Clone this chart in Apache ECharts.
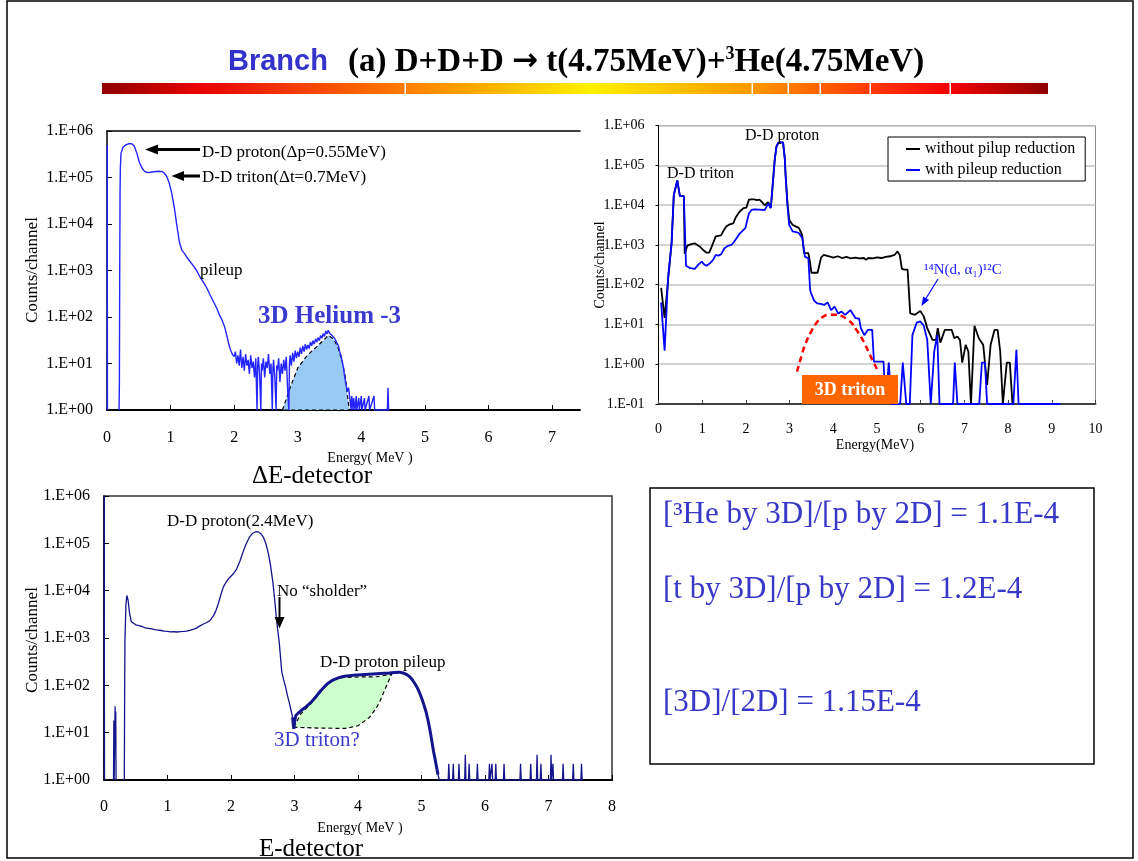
<!DOCTYPE html>
<html><head><meta charset="utf-8">
<script src="https://cdn.jsdelivr.net/npm/echarts@6/dist/echarts.min.js"></script>
<style>html,body{margin:0;padding:0;background:#fff}#c{width:1138px;height:861px}</style>
</head><body><div id="c"></div>
<script>
// ---------------- DATA ----------------
// ΔE-detector spectrum [Energy MeV, counts/channel]
const dESpectrum = [
[0.003,500000],[0.007,1],[0.1,null],[0.19,1],[0.195,4],[0.20,900],[0.205,40000],[0.21,160000],[0.22,330000],[0.25,440000],[0.29,500000],[0.34,530000],[0.39,530000],[0.43,470000],[0.47,330000],[0.51,210000],[0.55,160000],[0.59,135000],[0.63,128000],[0.68,130000],[0.74,133000],[0.80,136000],[0.86,135000],[0.90,125000],[0.94,105000],[0.98,75000],[1.02,45000],[1.06,22000],[1.10,9000],[1.14,4000],[1.18,2700],[1.22,2300],[1.26,1900],[1.30,1600],[1.35,1300],[1.41,1000],[1.45,780],[1.49,640],[1.53,520],[1.57,420],[1.61,320],[1.65,250],[1.69,195],[1.73,150],[1.77,110],[1.81,85],[1.85,62],[1.88,42],[1.91,28],[1.94,20],[1.97,16],
[2.00,14],[2.02,18],[2.04,10],[2.06,15],[2.08,9],[2.10,20],[2.12,8],[2.14,14],[2.16,7],[2.18,16],[2.20,9],[2.22,12],[2.24,6],[2.26,15],[2.28,8],[2.30,11],[2.32,5],[2.34,13],[2.36,1],[2.37,9],[2.38,14],[2.40,6],[2.42,1],[2.43,10],[2.44,7],[2.46,13],[2.48,5],[2.50,11],[2.52,8],[2.54,16],[2.56,6],[2.58,10],[2.60,1],[2.61,8],[2.62,12],[2.64,5],[2.66,1],[2.67,9],[2.68,7],[2.70,13],[2.72,4],[2.74,10],[2.76,6],[2.78,12],[2.80,7],[2.82,14],[2.84,3],[2.86,1],[2.87,10],[2.88,15],[2.90,9],[2.92,17],[2.94,11],[2.96,19],[2.98,13],[3.00,18],[3.02,14],[3.04,22],[3.06,16],[3.08,24],[3.10,18],[3.12,26],[3.14,20],[3.16,25],[3.18,21],[3.20,29],[3.22,24],[3.24,31],[3.26,26],[3.28,34],[3.30,29],[3.32,36],[3.34,31],[3.36,40],[3.38,35],[3.40,44],[3.42,38],[3.44,50],[3.46,43],[3.48,52],[3.50,45],[3.52,47],[3.54,40],[3.56,42],[3.58,35],[3.60,33],[3.62,27],[3.64,24],[3.66,18],[3.68,15],[3.70,11],[3.72,8],[3.74,5],[3.76,3.5],[3.78,2.5],[3.80,3],[3.82,1.8],[3.84,1],[3.85,2],[3.87,1],[3.88,1.8],[3.90,1],[3.92,2],[3.93,1],[3.96,1.8],[3.97,1],[4.00,2],[4.01,1],[4.05,1.8],[4.06,1],[4.12,2],[4.13,1],[4.20,2],[4.21,1],[4.41,1],[4.42,3],[4.43,1],[4.45,1]
];
// outline of the shaded 3D Helium-3 peak
const he3Region = [[2.76,1],[2.88,3],[3.0,8],[3.15,15],[3.3,23],[3.42,33],[3.48,40],[3.56,34],[3.63,23],[3.7,11],[3.75,5],[3.8,1.3],[3.82,1]];

// Top-right spectra
const withoutPileupReduction = [
[0.06,83],[0.14,14.7],[0.22,133],[0.30,1130],[0.35,18000],[0.43,42000],[0.49,17000],[0.58,17000],[0.60,600],[0.66,960],[0.75,1050],[0.83,1100],[0.94,920],[1.02,750],[1.10,640],[1.16,640],[1.22,920],[1.31,1640],[1.37,1700],[1.43,1740],[1.49,2300],[1.55,2900],[1.63,3300],[1.71,3500],[1.77,5000],[1.83,6300],[1.89,7500],[1.95,8500],[2.01,8700],[2.07,13800],[2.13,14000],[2.19,14000],[2.25,13500],[2.31,13800],[2.37,12000],[2.43,10000],[2.47,10000],[2.51,12000],[2.57,8500],[2.62,40000],[2.66,140000],[2.70,300000],[2.74,370000],[2.80,380000],[2.85,380000],[2.89,150000],[2.91,53000],[2.95,12000],[2.99,4300],[3.07,3200],[3.15,2900],[3.21,2700],[3.27,2000],[3.29,1640],[3.33,630],[3.43,620],[3.47,350],[3.50,200],[3.64,200],[3.67,210],[3.72,480],[3.78,560],[3.90,520],[4.00,480],[4.10,520],[4.20,470],[4.30,500],[4.40,460],[4.50,480],[4.60,460],[4.70,470],[4.75,420],[4.80,470],[4.90,460],[5.00,490],[5.10,470],[5.20,500],[5.30,520],[5.40,560],[5.47,690],[5.52,560],[5.57,250],[5.62,240],[5.70,240],[5.76,19],[5.87,17.5],[5.99,22],[6.07,16],[6.15,8.1],[6.27,4.1],[6.35,4.1],[6.39,8.1],[6.45,3.5],[6.55,7.3],[6.63,7.3],[6.71,7.3],[6.77,4.5],[6.84,5],[6.90,4],[6.95,1.1],[7.03,3.1],[7.09,2.1],[7.15,0.1],[7.23,9.3],[7.33,4.5],[7.43,3.1],[7.52,0.3],[7.60,3.1],[7.69,7.3],[7.76,7.3],[7.82,2.1],[7.88,0.1],[7.97,1.1],[8.04,1.1],[8.10,0.1]
];
const withPileupReduction = [
[0.06,36],[0.14,2.2],[0.22,160],[0.30,1130],[0.35,18000],[0.43,42000],[0.49,17000],[0.58,17000],[0.63,300],[0.73,260],[0.83,250],[0.91,320],[0.99,380],[1.05,320],[1.10,300],[1.18,350],[1.25,420],[1.31,560],[1.37,540],[1.43,580],[1.51,830],[1.59,950],[1.67,1000],[1.73,1200],[1.79,1500],[1.85,1900],[1.91,2200],[1.99,2700],[2.07,6300],[2.13,7600],[2.19,7900],[2.31,7700],[2.43,7500],[2.47,7500],[2.51,11000],[2.57,8500],[2.62,40000],[2.66,140000],[2.70,300000],[2.74,370000],[2.80,380000],[2.85,380000],[2.89,150000],[2.91,53000],[2.95,10000],[2.99,3200],[3.07,2200],[3.15,2100],[3.21,2000],[3.29,1500],[3.35,510],[3.43,460],[3.47,74],[3.49,62],[3.56,40],[3.63,34],[3.71,33],[3.79,31],[3.87,36],[3.95,23],[4.03,28],[4.11,19],[4.19,21],[4.27,17.5],[4.39,23],[4.51,14.4],[4.59,14],[4.63,8.1],[4.71,5.4],[4.79,7.3],[4.89,7.3],[4.93,1.16],[5.15,1.16],[5.19,0.1],[5.27,1.1],[5.33,0.1],[5.53,0.1],[5.59,1.1],[5.67,0.1],[5.75,0.1],[5.81,5.4],[5.91,11.2],[5.99,12],[6.07,9.3],[6.15,4.1],[6.23,0.1],[6.31,2.1],[6.38,5.4],[6.43,0.1],[6.74,0.1],[6.78,1.1],[6.84,0.1],[7.34,0.1],[7.40,1.1],[7.47,1.1],[7.52,0.1],[8.12,0.1],[8.19,2.3],[8.24,0.1],[9.20,0.1]
];
// red dashed 3D triton estimate
const tritonEstimate = [[3.17,0.65],[3.27,1.6],[3.37,3.4],[3.49,6.5],[3.61,10.8],[3.77,15.8],[3.93,17.5],[4.05,17.6],[4.17,16.7],[4.33,13],[4.45,10],[4.53,7.3],[4.63,5],[4.73,3.1],[4.81,2],[4.89,1.3],[5.01,0.72]];

// E-detector spectrum
const eSpectrum = [
[0.003,1000000],[0.008,1],[0.08,null],[0.15,1],[0.155,18],[0.16,1],[0.17,1],[0.175,36],[0.18,5],[0.185,28],[0.19,1],[0.25,null],[0.32,1],[0.325,60],[0.33,900],[0.345,5000],[0.36,7900],[0.38,6200],[0.40,3500],[0.43,2200],[0.46,2000],[0.50,1900],[0.55,1820],[0.60,1750],[0.65,1640],[0.70,1600],[0.75,1560],[0.80,1500],[0.85,1470],[0.90,1440],[0.95,1400],[1.00,1380],[1.05,1350],[1.10,1360],[1.15,1340],[1.20,1370],[1.25,1380],[1.30,1400],[1.35,1450],[1.40,1520],[1.45,1600],[1.51,1800],[1.56,1950],[1.61,2100],[1.67,2350],[1.72,2900],[1.76,3700],[1.80,5300],[1.84,8200],[1.88,12000],[1.93,15600],[1.98,19000],[2.04,23000],[2.09,29000],[2.14,42000],[2.19,66000],[2.24,98000],[2.29,135000],[2.34,163000],[2.39,176000],[2.43,175000],[2.47,160000],[2.51,135000],[2.55,98000],[2.59,60000],[2.62,36000],[2.66,15000],[2.69,6000],[2.72,2200],[2.76,800],[2.80,190],[2.83,130],[2.86,92],[2.89,60],[2.92,42],[2.95,28],[2.97,21],[2.98,15],[2.99,12],
[3.00,16],[3.02,23],[3.04,21],[3.06,26],[3.08,24],[3.10,29],[3.12,27],[3.14,32],[3.16,30],[3.18,35],[3.20,34],[3.22,39],[3.24,38],[3.26,44],[3.28,43],[3.30,50],[3.32,52],[3.34,58],[3.36,60],[3.38,68],[3.40,72],[3.42,79],[3.44,84],[3.46,90],[3.48,95],[3.50,102],[3.52,106],[3.54,114],[3.56,117],[3.58,124],[3.60,126],[3.63,133],[3.66,138],[3.69,144],[3.72,146],[3.75,152],[3.78,150],[3.81,157],[3.84,155],[3.87,160],[3.90,158],[3.93,163],[3.96,160],[3.99,165],[4.02,162],[4.05,167],[4.08,164],[4.11,169],[4.14,166],[4.17,171],[4.20,168],[4.23,173],[4.26,170],[4.29,175],[4.32,172],[4.35,177],[4.38,174],[4.41,179],[4.44,176],[4.47,181],[4.50,178],[4.53,184],[4.56,181],[4.59,187],[4.62,183],[4.65,190],[4.68,186],[4.71,183],[4.74,176],[4.77,168],[4.80,158],[4.83,145],[4.86,128],[4.89,112],[4.92,96],[4.95,80],[4.98,64],[5.01,50],[5.04,38],[5.07,28],[5.10,19],[5.13,12],[5.16,7],[5.19,4],[5.22,2.5],[5.24,1.8],[5.26,1.3],[5.28,1],
[5.42,1],[5.43,2.2],[5.44,1],[5.49,1],[5.50,2.2],[5.51,1],[5.58,1],[5.59,2.2],[5.60,1],[5.68,1],[5.69,3.4],[5.70,1],[5.74,1],[5.75,2.2],[5.76,1],[5.87,1],[5.88,2.2],[5.89,1],[6.06,1],[6.07,2.2],[6.08,1],[6.10,1],[6.11,2.2],[6.12,1],[6.16,1],[6.17,2.2],[6.18,1],[6.29,1],[6.30,2.2],[6.31,1],[6.55,1],[6.56,2.2],[6.57,1],[6.71,1],[6.72,2.2],[6.73,1],[6.81,1],[6.82,3.4],[6.83,1],[6.87,1],[6.88,2.2],[6.89,1],[7.03,1],[7.04,3.4],[7.05,1],[7.06,1],[7.07,2.2],[7.08,1],[7.22,1],[7.23,2.2],[7.24,1],[7.38,1],[7.39,2.2],[7.40,1],[7.51,1],[7.52,2.2],[7.53,1]
];
// green 3D triton? region: upper and lower boundaries
const tritonRegionUpper = [[2.99,13],[3.1,25],[3.25,40],[3.4,70],[3.5,100],[3.6,125],[3.7,145],[4.0,150],[4.3,152],[4.53,172]];
const tritonRegionLower = [[2.99,13],[3.4,12.5],[3.8,12.3],[4.0,14],[4.18,21],[4.28,32],[4.34,44],[4.42,80],[4.53,172]];

// tick label values
const dETicks = [0,1,2,3,4,5,6,7];
const trTicks = [0,1,2,3,4,5,6,7,8,9,10];
const eTicks = [0,1,2,3,4,5,6,7,8];

// ---------------- CHART ----------------
const SERIF = 'Liberation Serif';
function logLabel(v){ const e = Math.round(Math.log10(v)); return '1.E' + (e < 0 ? '-' : '+') + String(Math.abs(e)).padStart(2,'0'); }
function polyRender(points, fill){
  return function(params, api){
    if (params.dataIndex !== 0) return null;
    return {type:'polygon', shape:{points: points.map(p => api.coord(p))},
      style:{fill: fill, stroke:'#000', lineWidth:1.2, lineDash:[4,3]}};
  };
}
const chart = echarts.init(document.getElementById('c'), null, {renderer:'canvas'});
const lbl = (size, extra) => Object.assign({fontFamily:SERIF, fontSize:size, color:'#000'}, extra||{});
const T = (x, y, text, size, extra) => ({type:'text', x:x, y:y, z:50, style:Object.assign({text:text, fontFamily:SERIF, fontSize:size, fill:'#000', align:'left', verticalAlign:'middle'}, extra||{})});

const option = {
  animation:false,
  backgroundColor:'#fff',
  grid:[
    {left:107, top:131, width:473, height:279, show:false},
    {left:658.5, top:125.7, width:437, height:278.3, show:true, borderColor:'#8C8C8C', borderWidth:1},
    {left:104, top:496, width:508, height:284, show:true, borderColor:'#333', borderWidth:1.5}
  ],
  xAxis:[
    {gridIndex:0, type:'value', min:0, max:7.44, interval:1,
     axisLine:{show:true, lineStyle:{color:'#000', width:2}}, axisTick:{show:true, inside:true, length:5, customValues:dETicks, lineStyle:{color:'#000'}},
     axisLabel:{customValues:dETicks, margin:20, ...lbl(16)}, splitLine:{show:false}},
    {gridIndex:0, type:'value', position:'top', min:0, max:7.44,
     axisLine:{show:true, lineStyle:{color:'#000', width:1.5}}, axisTick:{show:false}, axisLabel:{show:false}, splitLine:{show:false}},
    {gridIndex:1, type:'value', min:0, max:10, interval:1,
     axisLine:{show:true, lineStyle:{color:'#404040', width:2}}, axisTick:{show:true, inside:true, length:4, lineStyle:{color:'#404040'}},
     axisLabel:{customValues:trTicks, margin:18, ...lbl(14)}, splitLine:{show:false}},
    {gridIndex:2, type:'value', min:0, max:8, interval:1,
     axisLine:{show:true, lineStyle:{color:'#000', width:2}}, axisTick:{show:true, inside:true, length:5, lineStyle:{color:'#000'}},
     axisLabel:{customValues:eTicks, margin:19, ...lbl(16)}, splitLine:{show:false}}
  ],
  yAxis:[
    {gridIndex:0, type:'log', logBase:10, min:1, max:1e6, splitNumber:6,
     axisLine:{show:true, lineStyle:{color:'#000', width:1.5}}, axisTick:{show:true, inside:true, length:5, lineStyle:{color:'#000'}},
     axisLabel:{formatter:logLabel, margin:14, ...lbl(16)}, splitLine:{show:false}},
    {gridIndex:1, type:'log', logBase:10, min:0.1, max:1e6, splitNumber:7,
     axisLine:{show:true, lineStyle:{color:'#000', width:1}}, axisTick:{show:true, inside:false, length:3, lineStyle:{color:'#000'}},
     axisLabel:{formatter:logLabel, margin:14, ...lbl(14)}, splitLine:{show:true, lineStyle:{color:'#C4C4C4', width:1.5}}},
    {gridIndex:2, type:'log', logBase:10, min:1, max:1e6, splitNumber:6,
     axisLine:{show:true, lineStyle:{color:'#000', width:1.5}}, axisTick:{show:true, inside:true, length:5, lineStyle:{color:'#000'}},
     axisLabel:{formatter:logLabel, margin:14, ...lbl(16)}, splitLine:{show:false}}
  ],
  legend:{
    data:['without pilup reduction','with pileup reduction'], orient:'vertical', left:888, top:137,
    icon:'rect', itemWidth:14, itemHeight:2, itemGap:3, selectedMode:false,
    borderColor:'#000', borderWidth:1, backgroundColor:'#fff', padding:[3,10,2,18],
    textStyle:{fontFamily:SERIF, fontSize:16, color:'#000', lineHeight:18}
  },
  series:[
    {name:'He3 region', type:'custom', xAxisIndex:0, yAxisIndex:0, z:2, silent:true,
     renderItem:polyRender(he3Region, '#99C9F5'), data:[he3Region[0]], encode:{x:0, y:1}},
    {name:'ΔE spectrum', type:'line', xAxisIndex:0, yAxisIndex:0, z:3, symbol:'none',
     lineStyle:{color:'#2424FF', width:1.4}, data:dESpectrum},
    {name:'without pilup reduction', type:'line', xAxisIndex:2, yAxisIndex:1, z:3, symbol:'none', color:'#000',
     lineStyle:{color:'#000', width:1.8}, data:withoutPileupReduction},
    {name:'with pileup reduction', type:'line', xAxisIndex:2, yAxisIndex:1, z:4, symbol:'none', color:'#0000FF',
     lineStyle:{color:'#0000FF', width:1.8}, data:withPileupReduction},
    {name:'3D triton estimate', type:'line', xAxisIndex:2, yAxisIndex:1, z:5, symbol:'none', smooth:true,
     lineStyle:{color:'#FF0000', width:2.5, type:[6,4]}, data:tritonEstimate},
    {name:'triton region', type:'custom', xAxisIndex:3, yAxisIndex:2, z:2, silent:true,
     renderItem:polyRender(tritonRegionUpper.concat(tritonRegionLower.slice().reverse()), '#CCFFCC'),
     data:[tritonRegionUpper[0]], encode:{x:0, y:1}},
    {name:'E spectrum', type:'line', xAxisIndex:3, yAxisIndex:2, z:3, symbol:'none',
     lineStyle:{color:'#14148C', width:1.3}, data:eSpectrum},
    {name:'E pileup band', type:'line', xAxisIndex:3, yAxisIndex:2, z:3, symbol:'none',
     lineStyle:{color:'#14148C', width:3}, data:eSpectrum.filter(p => p[0] >= 2.97 && p[0] <= 5.26)}
  ],
  graphic:{elements:[
    // slide frame
    {type:'rect', shape:{x:7, y:1, width:1126, height:857}, style:{fill:null, stroke:'#000', lineWidth:1.5}, z:0},
    // title
    {type:'text', x:228, y:62, style:{text:'Branch', fontFamily:'Liberation Sans', fontWeight:'bold', fontSize:29, fill:'#3333CC', verticalAlign:'middle'}},
    {type:'text', x:348, y:62, style:{text:'(a) D+D+D {a|→} t(4.75MeV)+{s|3}He(4.75MeV)', fontFamily:SERIF, fontWeight:'bold', fontSize:33, fill:'#000', verticalAlign:'middle',
       rich:{s:{fontFamily:SERIF, fontWeight:'bold', fontSize:18, verticalAlign:'top', fill:'#000'},
             a:{fontFamily:'DejaVu Sans', fontWeight:'bold', fontSize:31, fill:'#000'}}}},
    {type:'rect', shape:{x:102, y:83, width:946, height:11}, style:{fill:new echarts.graphic.LinearGradient(0,0,1,0,[
      {offset:0, color:'#8E0000'},{offset:0.1, color:'#E80000'},{offset:0.315, color:'#FF7A00'},{offset:0.516, color:'#FFF000'},
      {offset:0.685, color:'#FF9A00'},{offset:0.81, color:'#FF3A00'},{offset:0.9, color:'#F00000'},{offset:1, color:'#8E0000'}])}},
    {type:'rect', shape:{x:404.5, y:83, width:1.5, height:11}, style:{fill:'#fff'}},
    {type:'rect', shape:{x:751.5, y:83, width:1.5, height:11}, style:{fill:'#fff'}},
    {type:'rect', shape:{x:787.5, y:83, width:1.5, height:11}, style:{fill:'#fff'}},
    {type:'rect', shape:{x:819.5, y:83, width:1.5, height:11}, style:{fill:'#fff'}},
    {type:'rect', shape:{x:869.5, y:83, width:1.5, height:11}, style:{fill:'#fff'}},
    {type:'rect', shape:{x:949.5, y:83, width:1.5, height:11}, style:{fill:'#fff'}},

    // ---- top-left annotations
    {type:'line', shape:{x1:156, y1:149.5, x2:200, y2:149.5}, style:{stroke:'#000', lineWidth:3}, z:50},
    {type:'polygon', shape:{points:[[145,149.5],[158,144.5],[158,154.5]]}, style:{fill:'#000'}, z:50},
    {type:'line', shape:{x1:183, y1:176, x2:200, y2:176}, style:{stroke:'#000', lineWidth:3}, z:50},
    {type:'polygon', shape:{points:[[171.5,176],[184,171],[184,181]]}, style:{fill:'#000'}, z:50},
    T(202, 153, 'D-D proton(Δp=0.55MeV)', 17),
    T(202, 178, 'D-D triton(Δt=0.7MeV)', 17),
    T(200, 271, 'pileup', 17),
    T(258, 317, '3D Helium -3', 25, {fontWeight:'bold', fill:'#3A3ACF'}),
    {type:'text', x:33, y:270, rotation:Math.PI/2, style:{text:'Counts/channel', fontFamily:SERIF, fontSize:17, fill:'#000', align:'center', verticalAlign:'middle'}},
    T(370, 458, 'Energy( MeV )', 14, {align:'center'}),
    T(312, 476, 'ΔE-detector', 25, {align:'center'}),

    // ---- top-right annotations
    T(745, 136, 'D-D proton', 16),
    T(667, 174, 'D-D triton', 16),
    T(924, 270, '¹⁴N(d, α₁)¹²C', 15, {fill:'#2020FF'}),
    {type:'line', shape:{x1:938, y1:279, x2:925, y2:300}, style:{stroke:'#0000FF', lineWidth:1.2}, z:50},
    {type:'polygon', shape:{points:[[921.5,306],[929.1,300.1],[923.1,296.5]]}, style:{fill:'#0000FF'}, z:50},
    {type:'rect', shape:{x:802, y:375, width:96, height:29}, style:{fill:'#FF6600'}, z:40},
    T(850, 390, '3D triton', 18, {align:'center', fontWeight:'bold', fill:'#fff'}),
    T(875, 445, 'Energy(MeV)', 14, {align:'center'}),
    {type:'text', x:600, y:265, rotation:Math.PI/2, style:{text:'Counts/channel', fontFamily:SERIF, fontSize:14, fill:'#000', align:'center', verticalAlign:'middle'}},

    // ---- bottom-left annotations
    T(167, 522, 'D-D proton(2.4MeV)', 17),
    T(277, 592, 'No “sholder”', 17),
    {type:'line', shape:{x1:279.5, y1:597, x2:279.5, y2:618}, style:{stroke:'#000', lineWidth:2}, z:50},
    {type:'polygon', shape:{points:[[279.5,628.5],[274.5,617],[284.5,617]]}, style:{fill:'#000'}, z:50},
    T(320, 663, 'D-D proton pileup', 17),
    T(274, 740, '3D triton?', 21, {fill:'#3A3ACF'}),
    {type:'text', x:33, y:640, rotation:Math.PI/2, style:{text:'Counts/channel', fontFamily:SERIF, fontSize:17, fill:'#000', align:'center', verticalAlign:'middle'}},
    T(360, 828, 'Energy( MeV )', 14, {align:'center'}),
    T(311, 849, 'E-detector', 25, {align:'center'}),

    // ---- ratio box
    {type:'rect', shape:{x:650, y:488, width:444, height:276}, style:{fill:null, stroke:'#000', lineWidth:1.5}},
    T(663, 515, '[³He by 3D]/[p by 2D] = 1.1E-4', 31, {fill:'#3737C8'}),
    T(663, 590, '[t by 3D]/[p by 2D] = 1.2E-4', 31, {fill:'#3737C8'}),
    T(663, 703, '[3D]/[2D] = 1.15E-4', 31, {fill:'#3737C8'})
  ]}
};
chart.setOption(option);
</script>
</body></html>
